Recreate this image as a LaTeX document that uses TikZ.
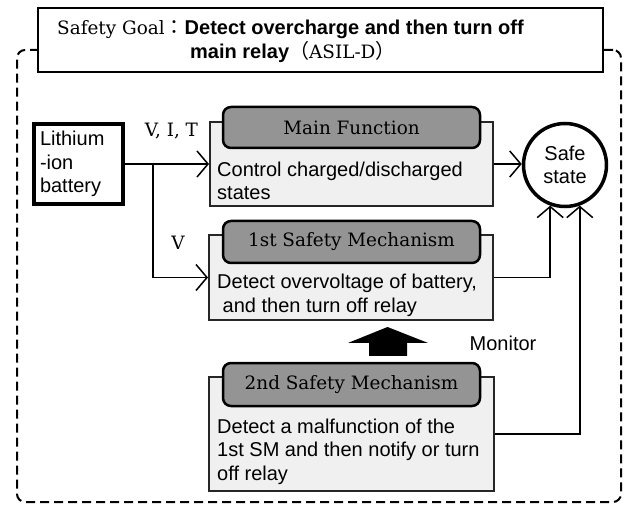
\documentclass[tikz,border=0pt]{standalone}
\usepackage{fontspec}
\setmainfont{Liberation Sans}
\newfontfamily\serif{DejaVu Serif}[Scale=0.92]
\newfontfamily\cjk{Noto Sans CJK JP}
\usetikzlibrary{arrows.meta,calc}
\begin{document}
\begin{tikzpicture}[x=1pt,y=-1pt,
  every node/.style={font=\fontsize{20}{23.5}\selectfont},
  conn/.style={line width=1.5pt, draw=black},
  arr/.style={conn, -{Straight Barb[length=11pt,width=26pt]}},
  outerbox/.style={draw=black!85, line width=2pt, fill=black!6, inner sep=0pt},
  headbox/.style={draw=black, line width=2.5pt, fill=black!42, rounded corners=8pt,
    minimum width=257pt, inner sep=0pt, font=\serif\fontsize{20}{23.5}\selectfont},
  bodytext/.style={anchor=base west, align=left, inner sep=0pt},
  lbl/.style={inner sep=0pt, font=\serif\fontsize{20}{23.5}\selectfont}]

\useasboundingbox (0,0) rectangle (624,505);

% dashed frame
\node[draw, line width=2pt, dash pattern=on 9pt off 5pt, rounded corners=8pt,
  minimum width=604pt, minimum height=452pt, inner sep=0pt] (frame) at (319,276) {};

% safety goal
\node[draw, line width=1.5pt, fill=white, minimum width=565pt, minimum height=64pt, inner sep=0pt] (goal) at (320.5,40) {};
\node[anchor=base west, inner sep=0pt] (goal1) at (57,35)
  {{\serif Safety Goal}{\cjk ：}\textbf{Detect overcharge and then turn off}};
\node[anchor=base west, inner sep=0pt] (goal2) at (190,59)
  {\textbf{main relay}{\cjk （}{\serif ASIL-D}{\cjk ）}};

% battery
\node[draw, line width=4pt, minimum width=89pt, minimum height=80pt, inner sep=0pt,
  text width=77pt, align=left] (bat) at (78.5,164) {Lithium\\-ion\\battery};

% main function
\node[outerbox, minimum width=283pt, minimum height=84pt] (mf) at (351.5,164) {};
\node[headbox, minimum height=41pt] (mfh) at (351.5,127.5) {Main Function};
\node[bodytext] (mft) at (217,200) {Control charged/discharged\\states};

% 1st SM
\node[outerbox, minimum width=284pt, minimum height=85pt] (sm1) at (351,277.5) {};
\node[headbox, minimum height=42pt] (sm1h) at (351.5,242) {1st Safety Mechanism};
\node[bodytext] (sm1t) at (217,312) {Detect overvoltage of battery,\\\hspace*{5.5pt}and then turn off relay};

% 2nd SM
\node[outerbox, minimum width=285pt, minimum height=114pt] (sm2) at (351.5,434) {};
\node[headbox, minimum height=43pt] (sm2h) at (351.5,384.5) {2nd Safety Mechanism};
\node[bodytext] (sm2t) at (217,480) {Detect a malfunction of the\\1st SM and then notify or turn\\off relay};

% safe state
\node[circle, draw, line width=3.5pt, minimum size=83pt, inner sep=0pt, align=center] (safe) at (565,165) {Safe\\state};

% labels
\node[lbl, anchor=base] (lvit) at (171.5,137) {V, I, T};
\node[lbl, anchor=base] (lv) at (178,250) {V};
\node[inner sep=0pt] (mon) at (503,343) {Monitor};

% connectors
\coordinate (br) at ($(bat.east)+(28,0)$);
\draw[arr] (bat.east) -- (mf.west);
\draw[arr] (br) |- (sm1.west);
\draw[arr] (mf.east) -- (mf.east -| safe.west);
\draw[arr] (sm1.east) -| (safe.-110);
\draw[arr] (sm2.east) -| (safe.-70);

% monitor arrow
\coordinate (mtail) at ($(sm2h.north)+(36.5,-6)$);
\coordinate (mtip) at ($(sm1.south)+(36.5,6)$);
\fill ($(mtail)+(-19,0)$) -- ($(mtail)+(-19,-13)$) -- ($(mtail)+(-39.5,-13)$) -- (mtip)
  -- ($(mtail)+(39.5,-13)$) -- ($(mtail)+(19,-13)$) -- ($(mtail)+(19,0)$) -- cycle;
\end{tikzpicture}
\end{document}
